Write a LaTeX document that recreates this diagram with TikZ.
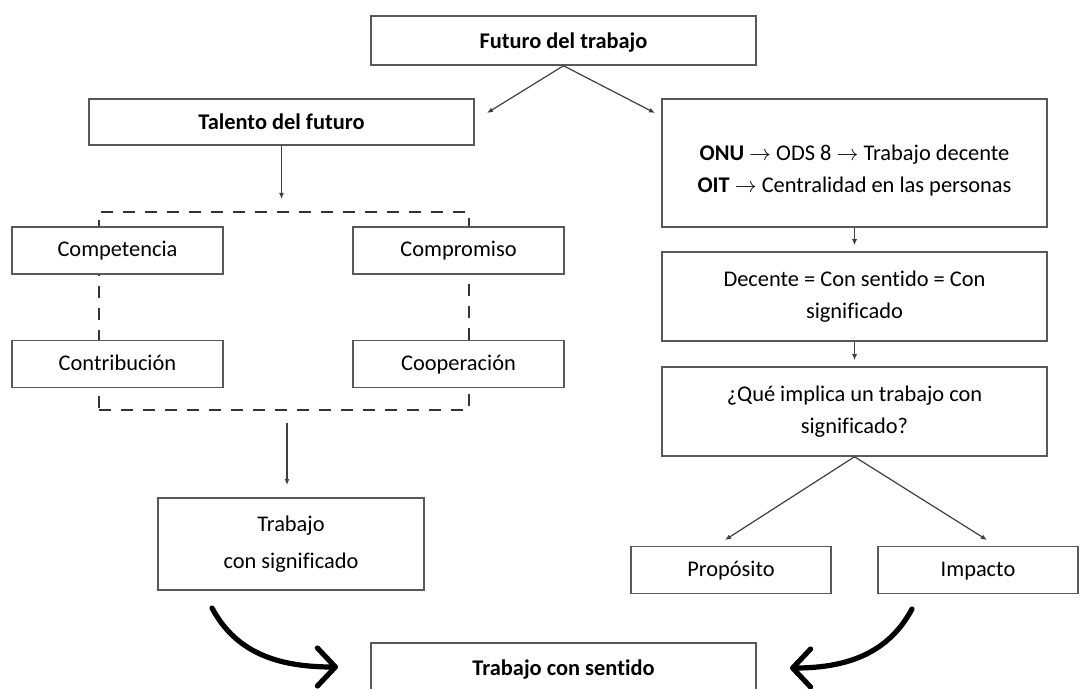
\documentclass[tikz,border=0pt]{standalone}
\usepackage{fontspec}
\setmainfont{Carlito}[Ligatures=NoCommon]
\usepackage{tikz}
\usetikzlibrary{arrows.meta,positioning}

\begin{document}
\begin{tikzpicture}[
    x=0.5pt, y=-0.5pt,
    every node/.style={font=\fontsize{11.2}{16}\selectfont},
    mainbox/.style={draw=black!65, line width=0.75pt, fill=white, minimum width=192.5pt, align=center, inner sep=0pt},
    titlebox/.style={mainbox, text height=10pt, text depth=2pt, font=\fontsize{11.2}{16}\selectfont\bfseries},
    itembox/.style={draw=black!65, line width=0.75pt, fill=white, minimum width=105.5pt, minimum height=23.5pt, align=center, inner sep=0pt, text height=9pt, text depth=2.5pt},
    dashbox/.style={draw=black!80, line width=1pt, dash pattern=on 6pt off 5pt, minimum width=185pt, minimum height=99pt, inner sep=0pt},
    arrstyle/.style={-{Latex[length=3pt, width=2.5pt]}, draw=black!75, line width=0.6pt},
    bigarr/.style={-{Straight Barb[length=9pt, width=19pt, round]}, line width=2.6pt, line cap=round}
]
\clip (0,0) rectangle (1081,689);
\fill[white] (0,0) rectangle (1081,689);

% Top and bottom
\node[titlebox, minimum height=24.5pt] (fut) at (563.5,40.5) {Futuro del trabajo};
\node[titlebox, minimum height=24.5pt] (sent) at (563.5,667.5) {Trabajo con sentido};

% Left branch: talent of the future
\node[titlebox, minimum height=23pt] (tal) at (281.5,122) {Talento del futuro};
\node[dashbox] (grp) at (284,311) {};
\node[itembox] (compet) at (117.5,250.5) {Competencia};
\node[itembox] (compro) at (458.5,250.5) {Compromiso};
\node[itembox] (contri) at (117.5,364) {Contribución};
\node[itembox] (coope) at (458.5,364) {Cooperación};
\node[mainbox, minimum width=133pt, minimum height=46pt] (tsig) at (291,544) {Trabajo\\[2.5pt]con significado};

% Right branch: decent work
\node[mainbox, minimum height=64pt] (onu) at (854.5,163)
    {\rule{0pt}{15pt}\textbf{ONU} $\rightarrow$ ODS 8 $\rightarrow$ Trabajo decente\\\textbf{OIT} $\rightarrow$ Centralidad en las personas};
\node[mainbox, minimum height=44.5pt] (dec) at (854.5,296.5) {Decente = Con sentido = Con\\significado};
\node[mainbox, minimum height=44.5pt] (que) at (854.5,411.5) {¿Qué implica un trabajo con\\significado?};
\node[itembox, minimum width=100pt] (prop) at (731,570) {Propósito};
\node[itembox, minimum width=100pt] (imp) at (978,570) {Impacto};

% Arrow ends
\coordinate (talin) at (487,113);
\coordinate (onuin) at (655,113);
\coordinate (grpin) at (281.5,199);
\coordinate (tsigin) at (287,485);
\coordinate (propin) at (725,540);
\coordinate (impin) at (987,540);
\coordinate (lstart) at (212,608);
\coordinate (lend) at (338,667);
\coordinate (rstart) at (912,609);
\coordinate (rend) at (790,668);

\draw[arrstyle] (fut.south) -- (talin);
\draw[arrstyle] (fut.south) -- (onuin);
\draw[arrstyle] (tal.south) -- (grpin);
\draw[arrstyle] (287,423) -- (tsigin);
\draw[arrstyle, shorten >=3pt] (onu.south) -- (dec.north);
\draw[arrstyle, shorten >=3pt] (dec.south) -- (que.north);
\draw[arrstyle] (que.south) -- (propin);
\draw[arrstyle] (que.south) -- (impin);

% Curved arrows into the final box
\draw[bigarr] (lstart) to[out=-62, in=180] (lend);
\draw[bigarr] (rstart) to[out=-118, in=0] (rend);
\end{tikzpicture}
\end{document}
